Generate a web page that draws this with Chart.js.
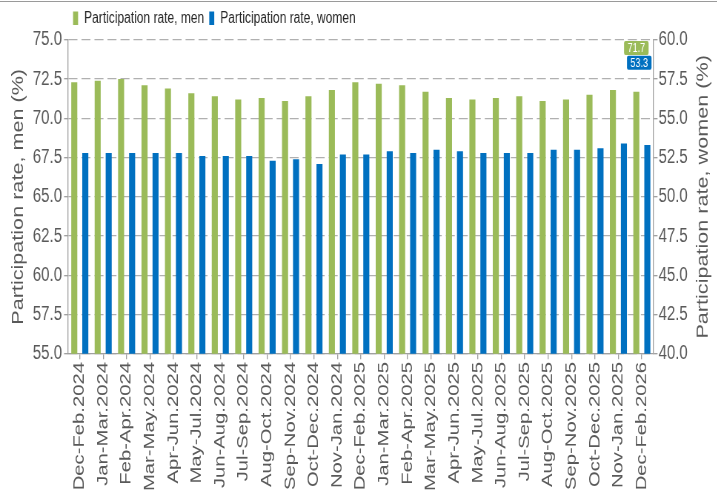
<!DOCTYPE html>
<html>
<head>
<meta charset="utf-8">
<script src="https://cdn.jsdelivr.net/npm/chart.js@4.4.1/dist/chart.umd.min.js"></script>
<style>
html, body { margin: 0; padding: 0; background: #fff; }
#frame { position: relative; width: 721px; height: 497px; overflow: hidden; }
#topline { position: absolute; left: 0; top: 1px; width: 717px; height: 0; border-top: 1px solid #9a9a9a; }
/* the reference is stretched vertically, so the chart is drawn flat and scaled */
#wrap { width: 721px; height: 368px; transform: scaleY(1.3505); transform-origin: 0 0; }
</style>
</head>
<body>
<div id="frame">
  <div id="wrap"><canvas id="canvas" width="721" height="368"></canvas></div>
  <div id="topline"></div>
</div>
<script>
var periods = ['Dec-Feb.2024', 'Jan-Mar.2024', 'Feb-Apr.2024', 'Mar-May.2024', 'Apr-Jun.2024',
    'May-Jul.2024', 'Jun-Aug.2024', 'Jul-Sep.2024', 'Aug-Oct.2024', 'Sep-Nov.2024',
    'Oct-Dec.2024', 'Nov-Jan.2024', 'Dec-Feb.2025', 'Jan-Mar.2025', 'Feb-Apr.2025',
    'Mar-May.2025', 'Apr-Jun.2025', 'May-Jul.2025', 'Jun-Aug.2025', 'Jul-Sep.2025',
    'Aug-Oct.2025', 'Sep-Nov.2025', 'Oct-Dec.2025', 'Nov-Jan.2025', 'Dec-Feb.2026']

var men = [72.3, 72.4, 72.5, 72.1, 71.9, 71.6, 71.4, 71.2, 71.3, 71.1, 71.4, 71.8, 72.3,
    72.2, 72.1, 71.7, 71.3, 71.2, 71.3, 71.4, 71.1, 71.2, 71.5, 71.8, 71.7]
var women = [52.8, 52.8, 52.8, 52.8, 52.8, 52.6, 52.6, 52.6, 52.3, 52.4, 52.1, 52.7, 52.7,
    52.9, 52.8, 53.0, 52.9, 52.8, 52.8, 52.8, 53.0, 53.0, 53.1, 53.4, 53.3]

var menTicks = [55.0, 57.5, 60.0, 62.5, 65.0, 67.5, 70.0, 72.5, 75.0]
var womenTicks = [40.0, 42.5, 45.0, 47.5, 50.0, 52.5, 55.0, 57.5, 60.0]

var labelMen = 'Participation rate, men'
var labelWomen = 'Participation rate, women'
var titleMen = 'Participation rate, men (%)'
var titleWomen = 'Participation rate, women (%)'

var green = '#9bbb59'
var blue = '#0070c0'
var grey = '#595959'
var axisGrey = '#a0a0a0'
var fontFamily = '"Liberation Sans", Arial, sans-serif'

// title of the right axis reads bottom to top, like the left one
var rightTitle = {
    id: 'rightTitle',
    afterDraw: function(chart) {
        var ctx = chart.ctx
        var a = chart.chartArea
        ctx.save()
        ctx.font = '16px ' + fontFamily
        ctx.fillStyle = grey
        ctx.textAlign = 'center'
        ctx.textBaseline = 'middle'
        ctx.translate(chart.width - 18, (a.top + a.bottom) / 2)
        ctx.rotate(-Math.PI / 2)
        ctx.fillText(titleWomen, 0, 0)
        ctx.restore()
    }
}

// boxes with the latest value of each series, top right
var lastValues = {
    id: 'lastValues',
    afterDatasetsDraw: function(chart) {
        var ctx = chart.ctx
        var a = chart.chartArea
        var tops = [a.top + 0.8, a.top + 11.8]
        ctx.save()
        ctx.font = '9px ' + fontFamily
        ctx.textAlign = 'center'
        ctx.textBaseline = 'middle'
        chart.data.datasets.forEach(function(ds, i) {
            var meta = chart.getDatasetMeta(i)
            var last = meta.data[meta.data.length - 1]
            var text = ds.data[ds.data.length - 1].toFixed(1)
            var w = ctx.measureText(text).width + 7
            var h = 10.4
            var cx = Math.min(last.x, a.right - 2 - w / 2)
            ctx.fillStyle = ds.backgroundColor
            ctx.beginPath()
            ctx.roundRect(cx - w / 2, tops[i], w, h, 1.5)
            ctx.fill()
            ctx.fillStyle = '#fff'
            ctx.fillText(text, cx, tops[i] + h / 2 + 0.5)
        })
        ctx.restore()
    }
}

function setTicks(list) {
    return function(scale) {
        scale.ticks = list.map(function(v) { return { value: v } })
    }
}

var chart = new Chart(document.getElementById('canvas'), {
    type: 'bar',
    data: {
        labels: periods,
        datasets: [{
            label: labelMen,
            data: men,
            yAxisID: 'y',
            backgroundColor: green,
            borderWidth: 0,
            categoryPercentage: 0.94,
            barPercentage: 0.55
        }, {
            label: labelWomen,
            data: women,
            yAxisID: 'y1',
            backgroundColor: blue,
            borderWidth: 0,
            categoryPercentage: 0.94,
            barPercentage: 0.55
        }]
    },
    options: {
        responsive: false,
        animation: false,
        devicePixelRatio: 1.3506,
        layout: { padding: { top: 2.5 } },
        plugins: {
            legend: {
                position: 'top',
                align: 'start',
                fullSize: false,
                labels: {
                    boxWidth: 5,
                    boxHeight: 10,
                    padding: 5,
                    color: '#262626',
                    font: { family: fontFamily, size: 12 }
                }
            },
            tooltip: { enabled: false }
        },
        scales: {
            x: {
                afterFit: function(s) { s.height = 106 },
                grid: {
                    offset: false,
                    drawOnChartArea: false,
                    tickLength: 4,
                    color: axisGrey
                },
                border: { color: axisGrey },
                ticks: {
                    autoSkip: false,
                    minRotation: 90,
                    maxRotation: 90,
                    padding: 2,
                    color: grey,
                    font: { family: fontFamily, size: 15 }
                }
            },
            y: {
                position: 'left',
                min: 55,
                max: 75,
                afterFit: function(s) { s.width = 68 },
                afterBuildTicks: setTicks(menTicks),
                grid: {
                    color: '#b0b0b0',
                    tickColor: axisGrey,
                    tickLength: 4,
                    tickBorderDash: []
                },
                border: { color: axisGrey, dash: [9, 4] },
                ticks: {
                    padding: 2,
                    color: grey,
                    font: { family: fontFamily, size: 15 },
                    callback: function(v) { return v.toFixed(1) }
                },
                title: {
                    display: true,
                    text: titleMen,
                    color: grey,
                    padding: { top: 9, bottom: 0 },
                    font: { family: fontFamily, size: 16 }
                }
            },
            y1: {
                position: 'right',
                min: 40,
                max: 60,
                afterFit: function(s) { s.width = 68 },
                afterBuildTicks: setTicks(womenTicks),
                grid: {
                    drawOnChartArea: false,
                    color: axisGrey,
                    tickLength: 4
                },
                border: { color: axisGrey },
                ticks: {
                    padding: 1,
                    color: grey,
                    font: { family: fontFamily, size: 15 },
                    callback: function(v) { return v.toFixed(1) }
                }
            }
        }
    },
    plugins: [rightTitle, lastValues]
})
</script>
</body>
</html>
